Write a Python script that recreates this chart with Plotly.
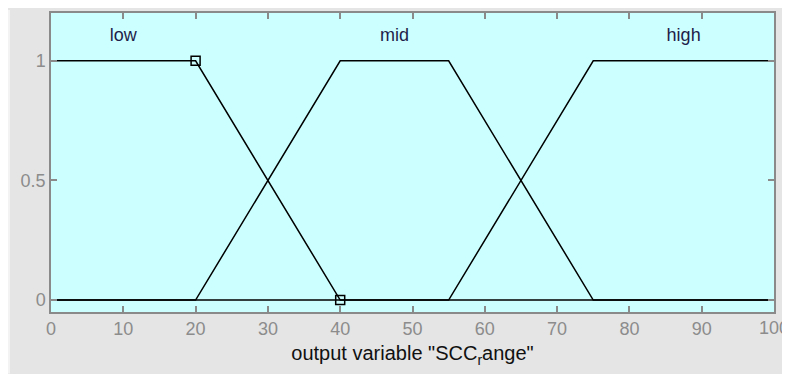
import plotly.graph_objects as go

# Membership function vertices
low_x = [0, 20, 40, 100]
low_y = [1, 1, 0, 0]
mid_x = [0, 20, 40, 55, 75, 100]
mid_y = [0, 0, 1, 1, 0, 0]
high_x = [0, 55, 75, 100]
high_y = [0, 0, 1, 1]
sel_x = [20, 40]
sel_y = [1, 0]

labels = ["low", "mid", "high"]
label_x = [10, 47.5, 87.5]
label_y = [1.1, 1.1, 1.1]

x_ticks = [0, 10, 20, 30, 40, 50, 60, 70, 80, 90, 100]
x_ticktext = ["0", "10", "20", "30", "40", "50", "60", "70", "80", "90", ""]
y_ticks = [0, 0.5, 1]
y_ticktext = ["0", "0.5", "1"]

FONT = "Liberation Sans, Arial"
TICKFONT = dict(family=FONT, size=18, color="#8c8c8c")

fig = go.Figure()
for xs, ys in [(low_x, low_y), (mid_x, mid_y), (high_x, high_y)]:
    fig.add_trace(go.Scatter(x=xs, y=ys, mode="lines",
                             line=dict(color="black", width=1.5),
                             hoverinfo="skip", showlegend=False))
fig.add_trace(go.Scatter(x=sel_x, y=sel_y, mode="markers",
                         marker=dict(symbol="square-open", size=9,
                                     color="black", line=dict(width=1.5)),
                         showlegend=False))
fig.add_trace(go.Scatter(x=label_x, y=label_y, mode="text", text=labels,
                         textfont=dict(family=FONT, size=18, color="#1e1e4a"),
                         showlegend=False))

W, H = 782, 366
L, R, T, B = 43, 16, 3, 62
pw, ph = W - L - R, H - T - B

fig.update_layout(
    width=W, height=H,
    margin=dict(l=L, r=R, t=T, b=B),
    paper_bgcolor="#e5e5e5",
    plot_bgcolor="#ccffff",
    font=dict(family=FONT, size=13),
    shapes=[
        dict(type="rect", xref="paper", yref="paper",
             x0=-L/pw, x1=-(L-2)/pw, y0=-B/ph, y1=1+T/ph,
             fillcolor="#f3f3f3", line=dict(width=0), layer="below"),
    ],
    annotations=[
        dict(text=str(x_ticks[-1]), x=x_ticks[-1], xref="x", y=0, yref="paper",
             yanchor="top", xanchor="center", showarrow=False, yshift=-4,
             font=TICKFONT),
    ],
)
fig.update_xaxes(range=[0, 100], tickvals=x_ticks, ticktext=x_ticktext,
                 ticks="inside", ticklen=6,
                 tickcolor="#8a8a8a", tickwidth=1.5, mirror="ticks",
                 showline=True, linecolor="#8a8a8a", linewidth=1.5,
                 showgrid=False, zeroline=False,
                 tickfont=TICKFONT,
                 title=dict(text='output variable "SCC<sub>r</sub>ange"',
                            font=dict(family=FONT, size=20, color="#111111"),
                            standoff=8))
fig.update_yaxes(range=[-0.05, 1.2], tickvals=y_ticks, ticktext=y_ticktext,
                 ticks="inside", ticklen=6,
                 tickcolor="#8a8a8a", tickwidth=1.5, mirror="ticks",
                 showline=True, linecolor="#8a8a8a", linewidth=1.5,
                 showgrid=False, zeroline=False,
                 tickfont=TICKFONT)

fig.write_html("out.html")
